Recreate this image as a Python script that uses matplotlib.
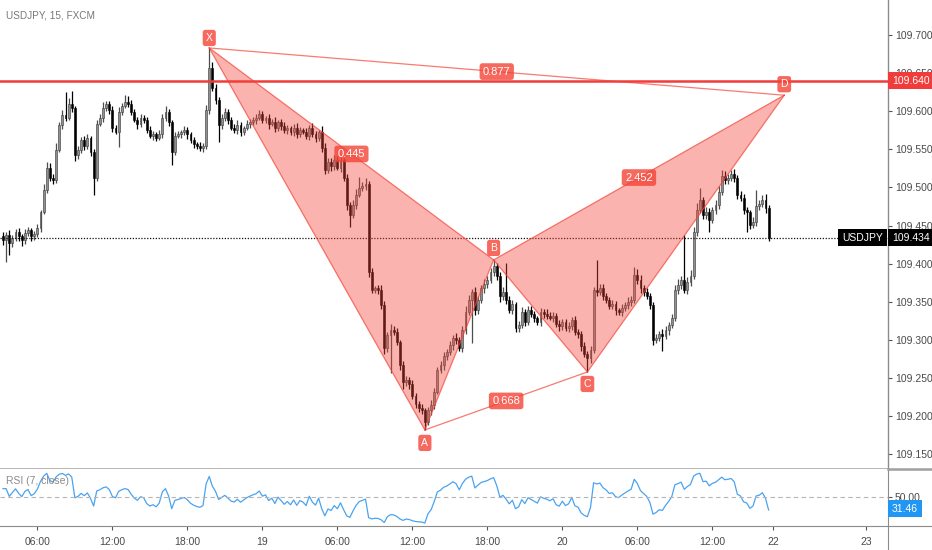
import numpy as np
import matplotlib
matplotlib.use("Agg")
import matplotlib.pyplot as plt
from matplotlib.transforms import blended_transform_factory
from matplotlib.lines import Line2D

plt.rcParams['font.family'] = ['Liberation Sans', 'DejaVu Sans']

# ---------------- data ----------------
title = "USDJPY, 15, FXCM"
first_open = 109.436
close = [
    109.431, 109.438, 109.427, 109.434, 109.442, 109.436, 109.431, 109.440, 109.444, 109.436,
    109.439, 109.447, 109.468, 109.497, 109.526, 109.513, 109.510, 109.549, 109.582, 109.595,
    109.591, 109.610, 109.604, 109.543, 109.549, 109.562, 109.554, 109.565, 109.547, 109.513,
    109.583, 109.591, 109.604, 109.610, 109.602, 109.578, 109.573, 109.599, 109.607, 109.612,
    109.610, 109.599, 109.589, 109.583, 109.591, 109.589, 109.575, 109.568, 109.570, 109.565,
    109.570, 109.591, 109.599, 109.586, 109.547, 109.568, 109.570, 109.573, 109.575, 109.570,
    109.562, 109.557, 109.554, 109.552, 109.554, 109.602, 109.657, 109.631, 109.615, 109.582,
    109.591, 109.599, 109.589, 109.578, 109.575, 109.582, 109.573, 109.578, 109.583, 109.586,
    109.589, 109.591, 109.596, 109.589, 109.591, 109.583, 109.586, 109.578, 109.586, 109.581,
    109.575, 109.578, 109.573, 109.578, 109.570, 109.575, 109.573, 109.568, 109.578, 109.570,
    109.565, 109.573, 109.552, 109.523, 109.534, 109.528, 109.536, 109.526, 109.536, 109.513,
    109.477, 109.464, 109.477, 109.490, 109.499, 109.502, 109.505, 109.389, 109.366, 109.368,
    109.366, 109.346, 109.290, 109.307, 109.313, 109.311, 109.297, 109.267, 109.245, 109.248,
    109.242, 109.227, 109.216, 109.211, 109.208, 109.193, 109.208, 109.215, 109.232, 109.261,
    109.267, 109.279, 109.284, 109.293, 109.303, 109.300, 109.290, 109.313, 109.337, 109.353,
    109.363, 109.339, 109.353, 109.368, 109.373, 109.379, 109.389, 109.397, 109.384, 109.358,
    109.363, 109.353, 109.339, 109.347, 109.316, 109.320, 109.337, 109.324, 109.339, 109.334,
    109.329, 109.324, 109.337, 109.334, 109.332, 109.329, 109.332, 109.321, 109.318, 109.324,
    109.316, 109.318, 109.326, 109.311, 109.308, 109.292, 109.282, 109.276, 109.287, 109.366,
    109.363, 109.368, 109.358, 109.353, 109.345, 109.347, 109.339, 109.337, 109.342, 109.346,
    109.350, 109.353, 109.385, 109.379, 109.368, 109.363, 109.358, 109.346, 109.300, 109.303,
    109.308, 109.305, 109.313, 109.320, 109.329, 109.366, 109.372, 109.379, 109.366, 109.376,
    109.384, 109.442, 109.471, 109.484, 109.464, 109.468, 109.457, 109.471, 109.477, 109.494,
    109.515, 109.510, 109.513, 109.518, 109.513, 109.490, 109.486, 109.471, 109.468, 109.451,
    109.455, 109.476, 109.478, 109.484, 109.473, 109.434,
]
# wick lengths beyond the body, in 0.001 price units
upper_wick = [
    5, 4, 6, 3, 4, 5, 3, 6, 4, 3,   4, 5, 3, 8, 8, 6, 5, 9, 4, 6,
    30, 8, 17, 3, 5, 4, 6, 5, 3, 4,   5, 6, 8, 4, 3, 5, 4, 6, 4, 9,
    8, 5, 4, 3, 6, 4, 3, 5, 4, 3,   6, 5, 8, 4, 3, 5, 4, 3, 5, 4,
    3, 4, 3, 5, 4, 6, 26, 8, 5, 4,   6, 5, 4, 3, 5, 6, 4, 3, 5, 4,
    3, 5, 6, 4, 3, 5, 4, 6, 3, 4,   5, 4, 3, 5, 6, 4, 3, 5, 4, 6,
    4, 3, 8, 6, 5, 4, 6, 5, 4, 3,   5, 4, 6, 8, 15, 5, 8, 4, 5, 3,
    4, 6, 5, 4, 8, 5, 4, 3, 6, 5,   4, 5, 3, 4, 5, 3, 4, 6, 5, 4,
    6, 5, 4, 5, 3, 6, 4, 5, 8, 6,   4, 6, 5, 4, 7, 5, 6, 8, 4, 5,
    6, 38, 4, 5, 3, 5, 6, 4, 5, 6,   4, 3, 5, 4, 6, 5, 4, 3, 5, 4,
    3, 5, 4, 6, 3, 4, 5, 3, 5, 4,   39, 6, 5, 4, 3, 5, 4, 3, 5, 4,
    6, 5, 11, 8, 6, 4, 5, 3, 4, 5,   4, 6, 5, 4, 5, 6, 8, 5, 58, 6,
    8, 6, 8, 15, 4, 6, 5, 4, 6, 8,   8, 6, 5, 5, 6, 4, 5, 6, 4, 3,
    6, 21, 5, 6, 8, 4,
]
lower_wick = [
    6, 29, 15, 5, 4, 6, 8, 5, 4, 6,   5, 4, 6, 3, 4, 5, 6, 4, 3, 5,
    4, 3, 5, 8, 6, 4, 5, 3, 6, 23,   4, 3, 5, 4, 6, 5, 3, 20, 4, 3,
    5, 4, 3, 6, 4, 5, 4, 3, 6, 4,   3, 5, 4, 6, 17, 4, 3, 5, 4, 6,
    4, 5, 3, 4, 6, 3, 5, 4, 6, 22,   5, 4, 6, 3, 4, 5, 6, 4, 3, 5,
    4, 6, 3, 5, 4, 6, 3, 5, 4, 6,   3, 5, 4, 6, 5, 4, 3, 5, 6, 4,
    5, 4, 6, 5, 4, 6, 5, 3, 6, 5,   6, 16, 4, 5, 3, 4, 5, 6, 5, 4,
    6, 5, 8, 6, 50, 5, 4, 6, 10, 5,   6, 4, 5, 6, 5, 11, 4, 6, 5, 3,
    4, 6, 5, 4, 6, 5, 4, 6, 5, 4,   57, 6, 5, 4, 6, 5, 4, 5, 6, 8,
    5, 6, 4, 5, 6, 5, 4, 6, 5, 4,   5, 4, 6, 5, 4, 3, 5, 4, 6, 5,
    4, 6, 5, 4, 5, 6, 5, 18, 6, 4,   5, 4, 6, 5, 4, 5, 6, 4, 5, 4,
    5, 6, 4, 5, 6, 5, 4, 5, 6, 4,   5, 19, 4, 6, 5, 4, 6, 5, 4, 6,
    5, 4, 6, 5, 6, 5, 15, 4, 6, 5,   4, 6, 5, 4, 6, 5, 4, 6, 26, 5,
    4, 6, 5, 4, 6, 4,
]

# harmonic pattern points (bar index, price)
pattern_names = ["X", "A", "B", "C", "D"]
pattern_bar = [66, 135, 157, 187, 250]
pattern_price = [109.683, 109.182, 109.405, 109.258, 109.621]
ratio_labels = ["0.877", "0.445", "0.668", "2.452"]

level_price = 109.640
last_price = 109.434
rsi_len = 7
rsi_last_label = 31.46

time_tick_pos = [11, 35, 59, 83, 107, 131, 155, 179, 203, 227, 246.5, 276.2]
time_tick_lbl = ["06:00", "12:00", "18:00", "19", "06:00", "12:00", "18:00", "20",
                 "06:00", "12:00", "22", "23"]
price_ticks = [109.15, 109.20, 109.25, 109.30, 109.35, 109.40, 109.45, 109.50,
               109.55, 109.60, 109.65, 109.70]

# ---------------- figure ----------------
W, H = 932, 550
fig = plt.figure(figsize=(W / 100, H / 100), dpi=100)
axw = 888 / W
ax = fig.add_axes([0, 81 / H, axw, 469 / H])
rax = fig.add_axes([0, 24 / H, axw, 57 / H], sharex=ax)

close = np.array(close)
n = len(close)
idx = np.arange(n)
opens = np.r_[first_open, close[:-1]]
highs = np.maximum(opens, close) + np.array(upper_wick) * 0.001
lows = np.minimum(opens, close) - np.array(lower_wick) * 0.001
up = close >= opens

wick_col = np.where(up, '#4d4d4d', '#000000')
body_col = np.where(up, '#8f8f8f', '#000000')
edge_col = np.where(up, '#3a3a3a', '#000000')
ax.vlines(idx, lows, highs, colors=wick_col, lw=0.9, zorder=2)
ax.bar(idx, np.maximum(np.abs(close - opens), 0.0009), bottom=np.minimum(opens, close),
       width=0.62, color=body_col, edgecolor=edge_col, lw=0.4, zorder=3)

ax.set_xlim(-0.96, 283.2)
ax.set_ylim(109.1307, 109.7459)

# level line and current price line
ax.axhline(level_price, color='#f23b3b', lw=1.8, zorder=5)
ax.axhline(last_price, color='#111111', lw=0.9, ls=(0, (1, 1.3)), zorder=4)

# harmonic pattern
red = '#f44336'
pb, pp = pattern_bar, pattern_price
ax.fill([pb[0], pb[1], pb[2]], [pp[0], pp[1], pp[2]], color=red, alpha=0.4, lw=0, zorder=6)
ax.fill([pb[2], pb[3], pb[4]], [pp[2], pp[3], pp[4]], color=red, alpha=0.4, lw=0, zorder=6)
for a, b in [(0, 1), (1, 2), (0, 2), (2, 3), (3, 4), (2, 4), (0, 4), (1, 3)]:
    ax.plot([pb[a], pb[b]], [pp[a], pp[b]], color=red, alpha=0.7, lw=0.9, zorder=7)

box = dict(boxstyle='round,pad=0.3,rounding_size=0.25', fc=red, ec='none', alpha=0.8)
offsets = [-10, 13, -12, 12, -11]
for name, b, p, off in zip(pattern_names, pb, pp, offsets):
    ax.annotate(name, (b, p), xytext=(0, -off), textcoords='offset pixels',
                ha='center', va='center', color='white', fontsize=7.5, bbox=box, zorder=9)
for (a, b), lbl in zip([(0, 4), (0, 2), (1, 3), (2, 4)], ratio_labels):
    ax.text((pb[a] + pb[b]) / 2, (pp[a] + pp[b]) / 2, lbl, ha='center', va='center',
            color='white', fontsize=8, bbox=box, zorder=9)

ax.text(6 / 888, 1 - 15 / 469, title, transform=ax.transAxes, fontsize=7.2,
        color='#787878', va='center', ha='left')

# axes styling (main)
for s in ['top', 'left']:
    ax.spines[s].set_visible(False)
ax.spines['right'].set_color('#8c8c8c')
ax.spines['right'].set_linewidth(1)
ax.spines['bottom'].set_color('#a0a0a0')
ax.spines['bottom'].set_linewidth(1.8)
ax.yaxis.tick_right()
ax.set_yticks(price_ticks)
ax.set_yticklabels([f"{t:.3f}" for t in price_ticks])
ax.tick_params(axis='y', length=3, width=0.8, color='#555555', pad=2,
               labelsize=7.5, labelcolor='#4a4a4a')
ax.tick_params(axis='x', bottom=False, labelbottom=False)

tr = blended_transform_factory(ax.transAxes, ax.transData)
ax.annotate(f"{level_price:.3f}", (1, level_price), xycoords=tr, xytext=(4, 0),
            textcoords='offset pixels', ha='left', va='center', color='white', fontsize=7.5,
            bbox=dict(boxstyle='square,pad=0.35', fc='#f23b3b', ec='none'), annotation_clip=False, zorder=10)
ax.annotate(f"{last_price:.3f}", (1, last_price), xycoords=tr, xytext=(4, 0),
            textcoords='offset pixels', ha='left', va='center', color='white', fontsize=7.5,
            bbox=dict(boxstyle='square,pad=0.35', fc='#000000', ec='none'), annotation_clip=False, zorder=10)
ax.annotate("USDJPY", (1, last_price), xycoords=tr, xytext=(-5, 0),
            textcoords='offset pixels', ha='right', va='center', color='white', fontsize=7.5,
            bbox=dict(boxstyle='square,pad=0.35', fc='#000000', ec='none'), annotation_clip=False, zorder=10)

# ---------------- RSI ----------------
delta = np.diff(close)
gain = np.clip(delta, 0, None)
loss = np.clip(-delta, 0, None)
ag, al = gain[:rsi_len].mean(), loss[:rsi_len].mean()
rsi = np.empty(n)
for i in range(1, n):
    ag = (ag * (rsi_len - 1) + gain[i - 1]) / rsi_len
    al = (al * (rsi_len - 1) + loss[i - 1]) / rsi_len
    rsi[i] = 100 - 100 / (1 + ag / al) if al > 0 else 100
rsi[0] = rsi[1]

rax.plot(idx, rsi, color='#4aa3f0', lw=0.9)
rax.axhline(50, color='#b5b5b5', lw=0.8, ls=(0, (4, 3)))
rax.set_ylim(3.3, 96.0)
for s in ['top', 'left']:
    rax.spines[s].set_visible(False)
rax.spines['right'].set_color('#8c8c8c')
rax.spines['bottom'].set_color('#8c8c8c')
rax.yaxis.tick_right()
rax.set_yticks([50])
rax.set_yticklabels(["50.00"])
rax.tick_params(axis='y', length=3, width=0.8, color='#555555', pad=2,
                labelsize=7.5, labelcolor='#4a4a4a')
rax.set_xticks(time_tick_pos)
rax.set_xticklabels(time_tick_lbl)
rax.tick_params(axis='x', length=3, width=0.8, color='#555555', pad=5,
                labelsize=7.5, labelcolor='#4a4a4a')
rtr = blended_transform_factory(rax.transAxes, rax.transData)
rax.annotate(f"{rsi_last_label:.2f}", (1, rsi_last_label), xycoords=rtr, xytext=(4, 0),
             textcoords='offset pixels', ha='left', va='center', color='white', fontsize=7.5,
             bbox=dict(boxstyle='square,pad=0.35', fc='#2196f3', ec='none'), annotation_clip=False)
rax.text(6 / 888, 1 - 12 / 57, "RSI (7, close)", transform=rax.transAxes, fontsize=7.5,
         color='#8a8a8a', va='center', ha='left')

# frame lines that extend past the plotting area
fig.add_artist(Line2D([axw, 1], [81 / H, 81 / H], color='#a0a0a0', lw=1.8, transform=fig.transFigure))
fig.add_artist(Line2D([axw, 1], [24 / H, 24 / H], color='#8c8c8c', lw=0.8, transform=fig.transFigure))
fig.add_artist(Line2D([axw, axw], [0, 24 / H], color='#8c8c8c', lw=0.8, transform=fig.transFigure))

fig.savefig("out.png", dpi=100, facecolor='white')
